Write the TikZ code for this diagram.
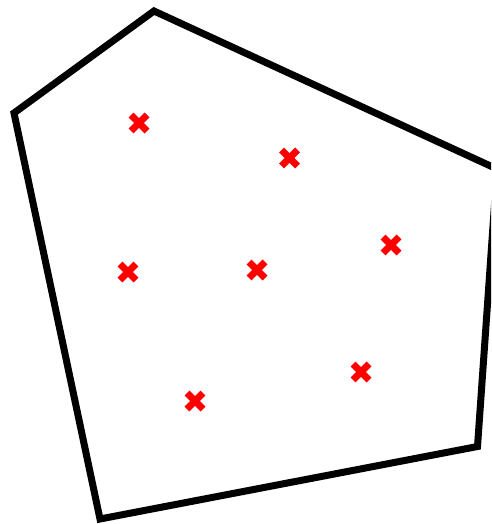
\documentclass[tikz,border=0pt]{standalone}
\begin{document}
\begin{tikzpicture}[x=1pt,y=-1pt,
  hull/.style={draw=black,line width=7pt,line join=miter},
  cross/.style={draw=red,line width=7pt}]
\useasboundingbox (0,0) rectangle (491,524);
\clip (0,0) rectangle (491,524);
\fill[white] (0,0) rectangle (491,524);
\coordinate (v1) at (154,11);
\coordinate (v2) at (14,113);
\coordinate (v3) at (100,519);
\coordinate (v4) at (477.5,446.5);
\coordinate (v5) at (497,169);
\draw[hull] (v1) -- (v2) -- (v3) -- (v4) -- (v5) -- cycle;
\foreach \n/\x/\y in {p1/139/123, p2/289.5/158, p3/128/272, p4/257/270, p5/391/245, p6/361/372, p7/195/401}{
  \coordinate (\n) at (\x,\y);
  \draw[cross] ([shift={(-8,-8)}]\n) -- ([shift={(8,8)}]\n);
  \draw[cross] ([shift={(-8,8)}]\n) -- ([shift={(8,-8)}]\n);
}
\end{tikzpicture}
\end{document}
